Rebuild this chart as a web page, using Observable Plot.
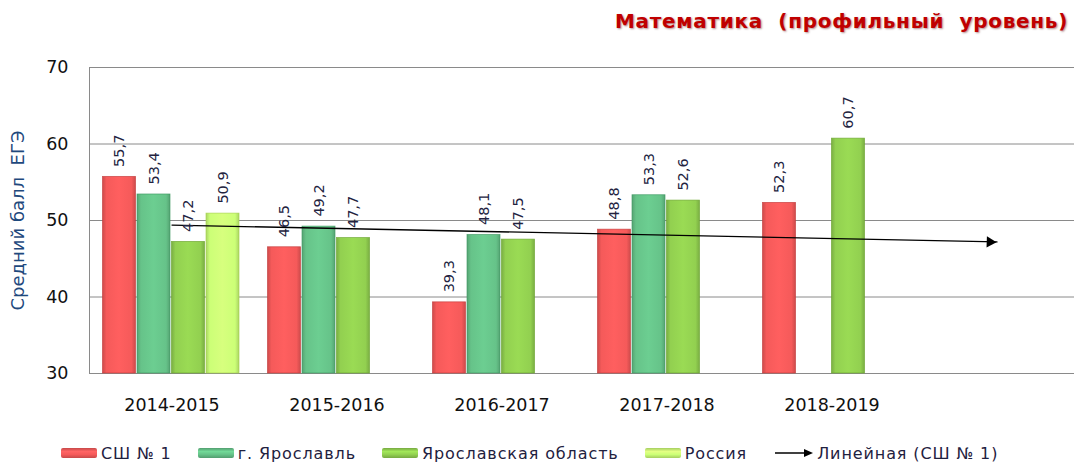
<!DOCTYPE html>
<html>
<head>
<meta charset="utf-8">
<script src="https://cdn.jsdelivr.net/npm/d3@7"></script>
<script src="https://cdn.jsdelivr.net/npm/@observablehq/plot@0.6"></script>
<style>
  html, body { margin: 0; padding: 0; background: #fff; }
  body { width: 1074px; height: 472px; overflow: hidden; font-family: "DejaVu Sans", sans-serif; }
  #title { height: 50px; position: relative; }
  #title span { position: absolute; right: 6px; top: 9px; font-size: 20px; font-weight: bold; color: #c00000; white-space: pre;
    text-shadow: 1px 1px 2px rgba(80,0,0,0.45); letter-spacing: 0.7px; }
  #legend { height: 42px; display: flex; align-items: center; padding-left: 61px; box-sizing: border-box; padding-top: 4px;
    font-size: 16px; color: #1f2140; letter-spacing: 0.9px; }
  .item { display: flex; align-items: center; margin-right: 26px; white-space: nowrap; }
  .sw { width: 36px; height: 10px; margin-right: 4px; border-radius: 2px; }
</style>
</head>
<body>
<div id="title"><span>Математика  (профильный  уровень)</span></div>
<div id="chart"></div>
<div id="legend"></div>
<script>
const categories = ["2014-2015", "2015-2016", "2016-2017", "2017-2018", "2018-2019", ""];
const seriesNames = ["СШ № 1", "г. Ярославль", "Ярославская область", "Россия"];
const seriesColors = ["#f55a5a", "#66c389", "#92d050", "#ccff77"];
const seriesEdges = ["#c43c3c", "#3f9a63", "#6aa52e", "#a6d24e"];
const schoolScores = [55.7, 46.5, 39.3, 48.8, 52.3];
const cityScores = [53.4, 49.2, 48.1, 53.3, null];
const regionScores = [47.2, 47.7, 47.5, 52.6, 60.7];
const russiaScores = [50.9, null, null, null, null];
const trendName = "Линейная (СШ № 1)";
const trendCategories = ["2014-2015", ""];
const trendScores = [49.4, 47.2];
const yTicks = [30, 40, 50, 60, 70];
const yLabel = "Средний балл  ЕГЭ";

const seriesScores = [schoolScores, cityScores, regionScores, russiaScores];
const rowsFor = (arr) => categories.slice(0, 5).map((c, j) => ({cat: c, v: arr[j]})).filter(d => d.v != null);
const trendRows = trendCategories.map((c, j) => ({cat: c, v: trendScores[j]}));

const step = 165, barW = 33, slot = 34.5, lead = 13.5;
const marks = [
  Plot.ruleY(yTicks.slice(1, -1), {stroke: "#8a8a8a", strokeWidth: 1}),
  Plot.frame({stroke: "#8a8a8a", strokeWidth: 1})
];
seriesScores.forEach((arr, i) => {
  const rows = rowsFor(arr);
  const insetLeft = lead + slot * i;
  const insetRight = step - barW - insetLeft;
  marks.push(Plot.barY(rows, {
    x: "cat", y1: 30, y2: "v", fill: `url(#grad${i})`,
    stroke: seriesEdges[i], strokeWidth: 0.8, strokeOpacity: 0.8,
    insetLeft, insetRight
  }));
});
marks.push(Plot.line(trendRows, {x: "cat", y: "v", stroke: "#000", strokeWidth: 1.3}));
marks.push(Plot.dot(trendRows.slice(-1), {x: "cat", y: "v", symbol: "triangle", rotate: 92, r: 4.2, fill: "#000", stroke: "none", dx: -7}));
seriesScores.forEach((arr, i) => {
  const rows = rowsFor(arr);
  marks.push(Plot.text(rows, {
    x: "cat", y: "v", text: d => d.v.toFixed(1).replace(".", ","),
    rotate: -90, textAnchor: "start", lineAnchor: "middle",
    dx: -52.5 + slot * i, dy: -10, fontSize: 14.5, fill: "#23233f"
  }));
});
marks.push(Plot.text([yLabel], {frameAnchor: "left", dx: -71, rotate: -90, fill: "#1f497d", fontSize: 18, textAnchor: "middle"}));

const chart = Plot.plot({
  width: 1074,
  height: 380,
  marginTop: 17,
  marginBottom: 57,
  marginLeft: 89,
  marginRight: -5,
  style: {fontFamily: "DejaVu Sans, sans-serif", fontSize: "17.5px", color: "#111", background: "#fff", overflow: "visible"},
  x: {type: "band", domain: categories, range: [89, 1079], padding: 0, tickSize: 0, tickPadding: 25, label: null},
  y: {domain: [30, 70], ticks: yTicks, tickSize: 0, tickPadding: 21, label: null},
  marks
});

// gradients for bevelled bars
const ns = "http://www.w3.org/2000/svg";
const defs = document.createElementNS(ns, "defs");
seriesColors.forEach((c, i) => {
  const g = document.createElementNS(ns, "linearGradient");
  g.setAttribute("id", `grad${i}`);
  g.setAttribute("x1", "0"); g.setAttribute("x2", "1"); g.setAttribute("y1", "0"); g.setAttribute("y2", "0");
  const base = d3.color(c);
  const stops = [[0, base.darker(0.5)], [0.12, base], [0.5, base.brighter(0.15)], [0.88, base], [1, base.darker(0.5)]];
  stops.forEach(([o, col]) => {
    const s = document.createElementNS(ns, "stop");
    s.setAttribute("offset", o);
    s.setAttribute("stop-color", col.formatHex());
    g.appendChild(s);
  });
  defs.appendChild(g);
});
chart.insertBefore(defs, chart.firstChild);
document.getElementById("chart").appendChild(chart);

// legend
const legend = document.getElementById("legend");
seriesNames.forEach((n, i) => {
  const it = document.createElement("div");
  it.className = "item";
  const sw = document.createElement("div");
  sw.className = "sw";
  const c = d3.color(seriesColors[i]);
  sw.style.background = `linear-gradient(to bottom, ${c.darker(0.6).formatHex()}, ${c.brighter(0.3).formatHex()} 35%, ${c.formatHex()} 65%, ${c.darker(0.6).formatHex()})`;
  it.appendChild(sw);
  const t = document.createElement("span");
  t.textContent = n;
  it.appendChild(t);
  legend.appendChild(it);
});
const tr = document.createElement("div");
tr.className = "item";
tr.innerHTML = `<svg width="42" height="12" style="margin-right:2px"><line x1="2" y1="6" x2="32" y2="6" stroke="#000" stroke-width="1.5"/><path d="M31,2 L40,6 L31,10 Z" fill="#000"/></svg>`;
const trt = document.createElement("span");
trt.textContent = trendName;
tr.appendChild(trt);
legend.appendChild(tr);
</script>
</body>
</html>
